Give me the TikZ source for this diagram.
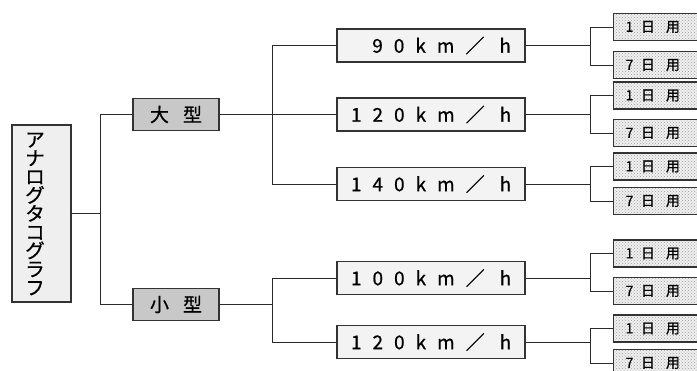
\documentclass[tikz,border=0pt]{standalone}
\usepackage{fontspec}
\setmainfont{Noto Sans CJK JP}
\newfontfamily\jp[RawFeature={embolden=0.7}]{Noto Sans CJK JP}
\usetikzlibrary{patterns}
\definecolor{linec}{HTML}{2A2A2A}
\definecolor{boxline}{HTML}{333333}
\definecolor{rootfill}{HTML}{EFEFEF}
\definecolor{midfill}{HTML}{C8C8C8}
\definecolor{spfill}{HTML}{F3F3F3}
\newcommand\gs{\kern11pt}
\newcommand\lgA{\kern7.6pt}
\newcommand\lgB{\kern11pt}
\begin{document}
\begin{tikzpicture}[x=1pt,y=-1pt,
  box/.style={draw=boxline, line width=1.2pt, inner sep=0pt},
  rootbox/.style={box, fill=rootfill, minimum width=59pt, minimum height=177pt},
  midbox/.style={box, fill=midfill, minimum width=86pt, minimum height=32pt, font=\jp\fontsize{19}{19}\selectfont},
  spbox/.style={box, fill=spfill, minimum height=33pt, text width=160pt, align=right, inner xsep=14pt, font=\jp\fontsize{19}{19}\selectfont},
  leafbox/.style={box, anchor=west, minimum height=27pt, text width=80pt, inner xsep=12pt, align=left, preaction={fill=gray!12}, pattern=crosshatch dots, pattern color=gray!75, font=\jp\fontsize{14}{14}\selectfont},
  conn/.style={draw=linec, line width=0.9pt}]
\useasboundingbox (0,0) rectangle (697,370);
\clip (0,0) rectangle (697,370);

% root
\node[rootbox] (root) at (41.5,213.5) {};
\node[inner sep=0pt, align=center, font=\jp\fontsize{19.5}{18.5}\selectfont] (rootlabel) at (35,214) {ア\\ナ\\ロ\\グ\\タ\\コ\\グ\\ラ\\フ};

% middle level
\node[midbox] (big) at (176,114.5) {大\kern14pt 型};
\node[midbox] (small) at (176,304.5) {小\kern14pt 型};

% speed boxes
\node[spbox] (sp1) at (431,45.5) {9\gs 0\gs k\gs m\gs ／\kern15pt h};
\node[spbox] (sp2) at (431,114.5) {1\gs 2\gs 0\gs k\gs m\gs ／\kern15pt h};
\node[spbox] (sp3) at (431,184) {1\gs 4\gs 0\gs k\gs m\gs ／\kern15pt h};
\node[spbox] (sp4) at (431,278) {1\gs 0\gs 0\gs k\gs m\gs ／\kern15pt h};
\node[spbox] (sp5) at (431,342) {1\gs 2\gs 0\gs k\gs m\gs ／\kern15pt h};

% leaves
\node[leafbox] (l1a) at (613,27) {1\lgA 日\lgB 用};
\node[leafbox] (l1b) at (613,65) {7\lgA 日\lgB 用};
\node[leafbox] (l2a) at (613,95.5) {1\lgA 日\lgB 用};
\node[leafbox] (l2b) at (613,133) {7\lgA 日\lgB 用};
\node[leafbox] (l3a) at (613,166.5) {1\lgA 日\lgB 用};
\node[leafbox] (l3b) at (613,201) {7\lgA 日\lgB 用};
\node[leafbox] (l4a) at (613,253.5) {1\lgA 日\lgB 用};
\node[leafbox] (l4b) at (613,291) {7\lgA 日\lgB 用};
\node[leafbox] (l5a) at (613,328.5) {1\lgA 日\lgB 用};
\node[leafbox] (l5b) at (613,363) {7\lgA 日\lgB 用};

% junctions
\coordinate (ja) at (100,213.5);
\coordinate (jb) at (272,114.5);
\coordinate (jc) at (272,304.5);
\coordinate (k1) at (590,45.5);
\coordinate (k2) at (590,114.5);
\coordinate (k3) at (590,184);
\coordinate (k4) at (590,278);
\coordinate (k5) at (590,342);

% connectors
\draw[conn] (root.east) -- (ja);
\draw[conn] (big.west) -| (ja);
\draw[conn] (small.west) -| (ja);

\draw[conn] (big.east) -- (sp2.west);
\draw[conn] (sp1.west) -| (jb);
\draw[conn] (sp3.west) -| (jb);

\draw[conn] (small.east) -- (jc);
\draw[conn] (sp4.west) -| (jc);
\draw[conn] (sp5.west) -| (jc);

\draw[conn] (sp1.east) -- (k1);
\draw[conn] (l1a.west) -| (k1);
\draw[conn] (l1b.west) -| (k1);
\draw[conn] (sp2.east) -- (k2);
\draw[conn] (l2a.west) -| (k2);
\draw[conn] (l2b.west) -| (k2);
\draw[conn] (sp3.east) -- (k3);
\draw[conn] (l3a.west) -| (k3);
\draw[conn] (l3b.west) -| (k3);
\draw[conn] (sp4.east) -- (k4);
\draw[conn] (l4a.west) -| (k4);
\draw[conn] (l4b.west) -| (k4);
\draw[conn] (sp5.east) -- (k5);
\draw[conn] (l5a.west) -| (k5);
\draw[conn] (l5b.west) -| (k5);
\end{tikzpicture}
\end{document}
